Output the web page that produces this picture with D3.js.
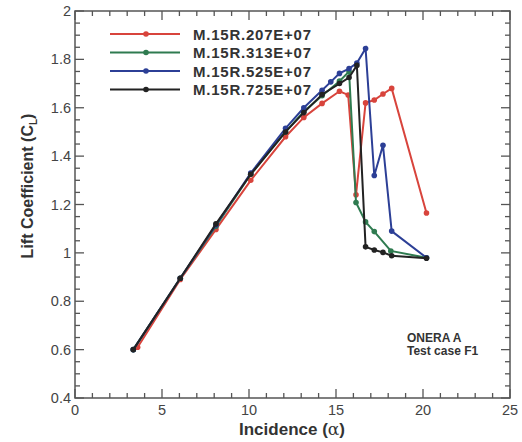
<!DOCTYPE html>
<html>
<head>
<meta charset="utf-8">
<script src="https://cdn.jsdelivr.net/npm/d3@7"></script>
<style>
  body { margin: 0; background: #fff; }
  svg text { font-family: "Liberation Sans", Arial, sans-serif; }
</style>
</head>
<body>
<svg id="chart" width="522" height="442"></svg>
<script>
// data
var seriesNames = ['M.15R.207E+07', 'M.15R.313E+07', 'M.15R.525E+07', 'M.15R.725E+07'];
var seriesColors = ['#d8443c', '#2f7b50', '#2c3f96', '#222222'];

var alphaRed = [3.6, 6.05, 8.1, 10.1, 12.1, 13.15, 14.2, 15.2, 15.7, 16.15, 16.7, 17.2, 17.7, 18.2, 20.2];
var clRed    = [0.61, 0.89, 1.097, 1.30, 1.48, 1.56, 1.618, 1.668, 1.653, 1.24, 1.62, 1.632, 1.657, 1.68, 1.165];

var alphaGreen = [3.35, 6.05, 8.1, 10.1, 12.1, 13.15, 14.2, 15.2, 15.75, 16.15, 16.7, 17.2, 18.15, 20.2];
var clGreen    = [0.60, 0.895, 1.11, 1.325, 1.50, 1.585, 1.65, 1.71, 1.75, 1.208, 1.128, 1.088, 1.008, 0.98];

var alphaBlue = [3.35, 6.05, 8.1, 10.1, 12.1, 13.15, 14.2, 14.7, 15.2, 15.75, 16.2, 16.7, 17.2, 17.7, 18.2, 20.2];
var clBlue    = [0.60, 0.895, 1.115, 1.33, 1.515, 1.60, 1.672, 1.707, 1.742, 1.762, 1.785, 1.845, 1.32, 1.445, 1.09, 0.98];

var alphaBlack = [3.35, 6.05, 8.1, 10.1, 12.1, 13.15, 14.2, 15.2, 15.75, 16.2, 16.7, 17.2, 17.7, 18.2, 20.2];
var clBlack    = [0.60, 0.895, 1.12, 1.325, 1.50, 1.58, 1.655, 1.70, 1.725, 1.775, 1.025, 1.012, 1.002, 0.988, 0.978];

var xTicks = [0, 5, 10, 15, 20, 25];
var yTicks = [0.4, 0.6, 0.8, 1, 1.2, 1.4, 1.6, 1.8, 2];

var allX = [alphaRed, alphaGreen, alphaBlue, alphaBlack];
var allY = [clRed, clGreen, clBlue, clBlack];

var svg = d3.select('#chart');
var plotL = 75, plotR = 510, plotT = 11, plotB = 398;
var axisColor = '#555';

var x = d3.scaleLinear().domain([0, 25]).range([plotL, plotR]);
var y = d3.scaleLinear().domain([0.4, 2]).range([plotB, plotT]);

// frame
svg.append('rect')
  .attr('x', plotL).attr('y', plotT)
  .attr('width', plotR - plotL).attr('height', plotB - plotT)
  .attr('fill', 'none').attr('stroke', axisColor).attr('stroke-width', 1.5);

// ticks (inward, all four sides)
var xMinor = d3.range(0, 25.01, 1);
var yMinor = d3.range(0.4, 2.001, 0.05);
function isMajorX (v) { return Math.abs(v % 5) < 1e-6 }
function isMajorY (v) { return Math.abs(Math.round(v * 5) - v * 5) < 1e-6 }

var tickG = svg.append('g').attr('stroke', axisColor).attr('stroke-width', 1.3);
xMinor.forEach(function (v) {
  var len = isMajorX(v) ? 9 : 5;
  tickG.append('line').attr('x1', x(v)).attr('x2', x(v)).attr('y1', plotB).attr('y2', plotB - len);
  tickG.append('line').attr('x1', x(v)).attr('x2', x(v)).attr('y1', plotT).attr('y2', plotT + len);
});
yMinor.forEach(function (v) {
  var len = isMajorY(v) ? 9 : 5;
  tickG.append('line').attr('y1', y(v)).attr('y2', y(v)).attr('x1', plotL).attr('x2', plotL + len);
  tickG.append('line').attr('y1', y(v)).attr('y2', y(v)).attr('x1', plotR).attr('x2', plotR - len);
});

// tick labels
svg.append('g').selectAll('text').data(xTicks).enter().append('text')
  .attr('x', function (d) { return x(d) }).attr('y', plotB + 17)
  .attr('text-anchor', 'middle').attr('font-size', 14.5).attr('fill', '#444')
  .text(function (d) { return d });
svg.append('g').selectAll('text').data(yTicks).enter().append('text')
  .attr('x', plotL - 4).attr('y', function (d) { return y(d) + 5 })
  .attr('text-anchor', 'end').attr('font-size', 14.5).attr('fill', '#444')
  .text(function (d) { return d });

// axis titles
var xt = svg.append('text').attr('x', 292).attr('y', 435)
  .attr('text-anchor', 'middle').attr('font-size', 17).attr('font-weight', 'bold').attr('fill', '#333');
xt.append('tspan').text('Incidence (');
xt.append('tspan').attr('font-weight', 'normal').attr('font-family', 'DejaVu Serif').text('α');
xt.append('tspan').text(')');

var yt = svg.append('text').attr('transform', 'translate(33,186) rotate(-90)')
  .attr('text-anchor', 'middle').attr('font-size', 16).attr('font-weight', 'bold').attr('fill', '#333');
yt.append('tspan').text('Lift Coefficient (C');
yt.append('tspan').attr('font-size', 10).attr('dy', 4).text('L');
yt.append('tspan').attr('dy', -4).text(')');

// series
var line = d3.line().x(function (d) { return x(d[0]) }).y(function (d) { return y(d[1]) });
seriesNames.forEach(function (name, i) {
  var pts = allX[i].map(function (a, j) { return [a, allY[i][j]] });
  var g = svg.append('g');
  g.append('path').datum(pts).attr('d', line)
    .attr('fill', 'none').attr('stroke', seriesColors[i]).attr('stroke-width', 2);
  g.selectAll('circle').data(pts).enter().append('circle')
    .attr('cx', function (d) { return x(d[0]) }).attr('cy', function (d) { return y(d[1]) })
    .attr('r', 2.8).attr('fill', seriesColors[i]);
});

// legend
var legY = [34, 52.5, 71, 89.5];
seriesNames.forEach(function (name, i) {
  svg.append('line').attr('x1', 110).attr('x2', 180).attr('y1', legY[i]).attr('y2', legY[i])
    .attr('stroke', seriesColors[i]).attr('stroke-width', 2);
  svg.append('circle').attr('cx', 146).attr('cy', legY[i]).attr('r', 2.8).attr('fill', seriesColors[i]);
  svg.append('text').attr('x', 193).attr('y', legY[i] + 5.5)
    .attr('font-size', 15).attr('font-weight', 'bold').attr('fill', '#333')
    .attr('textLength', 118).attr('lengthAdjust', 'spacing').text(name);
});

// annotation
svg.append('text').attr('x', 407).attr('y', 342).attr('font-size', 12).attr('font-weight', 'bold')
  .attr('fill', '#333').text('ONERA A');
svg.append('text').attr('x', 407).attr('y', 355).attr('font-size', 12).attr('font-weight', 'bold')
  .attr('fill', '#333').text('Test case F1');
</script>
</body>
</html>
